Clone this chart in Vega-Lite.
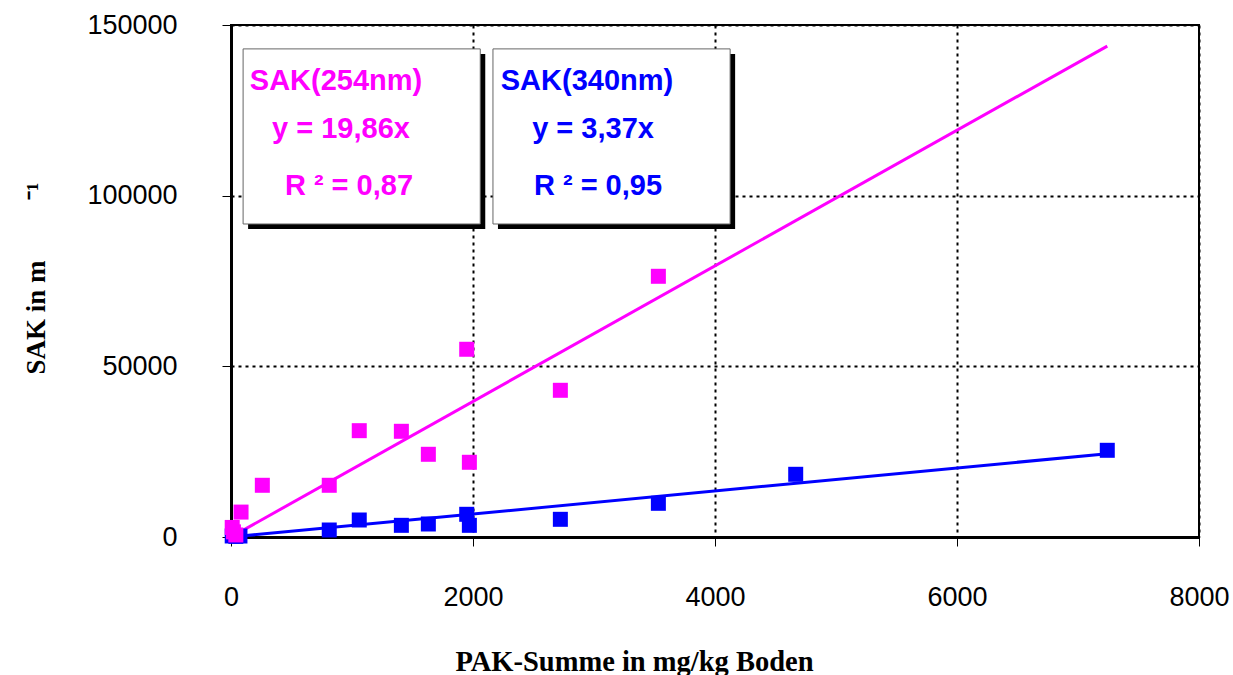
{
  "$schema": "https://vega.github.io/schema/vega-lite/v6.json",
  "autosize": "none",
  "width": 968,
  "height": 512,
  "padding": {"left": 231, "top": 25, "right": 34, "bottom": 138},
  "background": "white",
  "config": {
    "view": {"stroke": "black", "strokeWidth": 2},
    "axis": {
      "labelFont": "Liberation Sans",
      "labelFontSize": 27,
      "labelColor": "black",
      "labelFlush": false,
      "labelOverlap": false,
      "titleFont": "Liberation Serif",
      "titleFontSize": 27,
      "titleFontWeight": "bold",
      "titleColor": "black",
      "domainColor": "black",
      "domainWidth": 3,
      "tickColor": "black",
      "tickWidth": 1,
      "tickSize": 9,
      "gridColor": "black",
      "gridWidth": 2,
      "gridDash": [3, 4],
      "gridOpacity": 1
    }
  },
  "datasets": {
    "messwerte": [
      {"pak": 10, "sak": 300, "serie": "SAK(340nm)"},
      {"pak": 40, "sak": 200, "serie": "SAK(340nm)"},
      {"pak": 74, "sak": 290, "serie": "SAK(340nm)"},
      {"pak": 812, "sak": 2050, "serie": "SAK(340nm)"},
      {"pak": 1060, "sak": 4980, "serie": "SAK(340nm)"},
      {"pak": 1408, "sak": 3420, "serie": "SAK(340nm)"},
      {"pak": 1631, "sak": 3810, "serie": "SAK(340nm)"},
      {"pak": 1948, "sak": 6650, "serie": "SAK(340nm)"},
      {"pak": 1970, "sak": 3420, "serie": "SAK(340nm)"},
      {"pak": 2722, "sak": 5180, "serie": "SAK(340nm)"},
      {"pak": 3532, "sak": 9870, "serie": "SAK(340nm)"},
      {"pak": 4667, "sak": 18370, "serie": "SAK(340nm)"},
      {"pak": 7242, "sak": 25400, "serie": "SAK(340nm)"},
      {"pak": 10, "sak": 2800, "serie": "SAK(254nm)"},
      {"pak": 20, "sak": 1500, "serie": "SAK(254nm)"},
      {"pak": 40, "sak": 600, "serie": "SAK(254nm)"},
      {"pak": 83, "sak": 7300, "serie": "SAK(254nm)"},
      {"pak": 259, "sak": 15150, "serie": "SAK(254nm)"},
      {"pak": 812, "sak": 15150, "serie": "SAK(254nm)"},
      {"pak": 1060, "sak": 31150, "serie": "SAK(254nm)"},
      {"pak": 1408, "sak": 30970, "serie": "SAK(254nm)"},
      {"pak": 1631, "sak": 24230, "serie": "SAK(254nm)"},
      {"pak": 1948, "sak": 55000, "serie": "SAK(254nm)"},
      {"pak": 1970, "sak": 21890, "serie": "SAK(254nm)"},
      {"pak": 2722, "sak": 42980, "serie": "SAK(254nm)"},
      {"pak": 3532, "sak": 76380, "serie": "SAK(254nm)"}
    ],
    "regression": [
      {"pak": 0, "sak": 0, "serie": "SAK(254nm)"},
      {"pak": 7242, "sak": 143826, "serie": "SAK(254nm)"},
      {"pak": 0, "sak": 0, "serie": "SAK(340nm)"},
      {"pak": 7242, "sak": 24406, "serie": "SAK(340nm)"}
    ],
    "kaesten": [
      {"x1": 100, "x2": 2060, "y1": 91700, "y2": 143000},
      {"x1": 2165, "x2": 4125, "y1": 91700, "y2": 143000}
    ],
    "beschriftung": [
      {"x": 868, "y": 130957, "text": "SAK(254nm)", "serie": "SAK(254nm)"},
      {"x": 909, "y": 116895, "text": "y = 19,86x", "serie": "SAK(254nm)"},
      {"x": 975, "y": 100195, "text": "R ² = 0,87", "serie": "SAK(254nm)"},
      {"x": 2942, "y": 130957, "text": "SAK(340nm)", "serie": "SAK(340nm)"},
      {"x": 2992, "y": 116895, "text": "y = 3,37x", "serie": "SAK(340nm)"},
      {"x": 3033, "y": 100195, "text": "R ² = 0,95", "serie": "SAK(340nm)"}
    ]
  },
  "layer": [
    {
      "data": {"name": "regression"},
      "mark": {"type": "line", "strokeWidth": 3, "clip": true},
      "encoding": {
        "x": {
          "field": "pak", "type": "quantitative",
          "scale": {"domain": [0, 8000], "nice": false},
          "axis": {
            "values": [0, 2000, 4000, 6000, 8000],
            "format": "d",
            "labelPadding": 38,
            "title": "PAK-Summe in mg/kg Boden",
            "titleFontSize": 28.5,
            "titleX": 403,
            "titleY": 133,
            "titleAlign": "center",
            "titleBaseline": "alphabetic"
          }
        },
        "y": {
          "field": "sak", "type": "quantitative",
          "scale": {"domain": [0, 150000], "nice": false},
          "axis": {
            "values": [0, 50000, 100000, 150000],
            "format": "d",
            "labelPadding": 45,
            "title": "SAK in m\u00a0\u00a0\u00a0\u00a0\u00a0\u00a0\u00a0\u00a0\u00a0\u207b\u00b9",
            "titleAngle": -90,
            "titleX": -187,
            "titleY": 253,
            "titleAlign": "center",
            "titleBaseline": "alphabetic"
          }
        },
        "color": {
          "field": "serie", "type": "nominal",
          "scale": {"domain": ["SAK(254nm)", "SAK(340nm)"], "range": ["#ff00ff", "#0000ff"]},
          "legend": null
        },
        "detail": {"field": "serie"}
      }
    },
    {
      "data": {"name": "messwerte"},
      "mark": {"type": "point", "shape": "square", "filled": true, "opacity": 1, "size": 225},
      "encoding": {
        "x": {"field": "pak", "type": "quantitative"},
        "y": {"field": "sak", "type": "quantitative"},
        "color": {"field": "serie", "type": "nominal", "legend": null}
      }
    },
    {
      "data": {"name": "kaesten"},
      "mark": {"type": "rect", "fill": "black", "xOffset": 5, "x2Offset": 5, "yOffset": 5, "y2Offset": 5},
      "encoding": {
        "x": {"field": "x1", "type": "quantitative"},
        "x2": {"field": "x2"},
        "y": {"field": "y1", "type": "quantitative"},
        "y2": {"field": "y2"}
      }
    },
    {
      "data": {"name": "kaesten"},
      "mark": {"type": "rect", "fill": "white", "stroke": "#666666", "strokeWidth": 1},
      "encoding": {
        "x": {"field": "x1", "type": "quantitative"},
        "x2": {"field": "x2"},
        "y": {"field": "y1", "type": "quantitative"},
        "y2": {"field": "y2"}
      }
    },
    {
      "data": {"name": "beschriftung"},
      "mark": {"type": "text", "font": "Liberation Sans", "fontWeight": "bold", "fontSize": 29, "align": "center", "baseline": "alphabetic"},
      "encoding": {
        "x": {"field": "x", "type": "quantitative"},
        "y": {"field": "y", "type": "quantitative"},
        "text": {"field": "text"},
        "color": {"field": "serie", "type": "nominal", "legend": null}
      }
    }
  ]
}
